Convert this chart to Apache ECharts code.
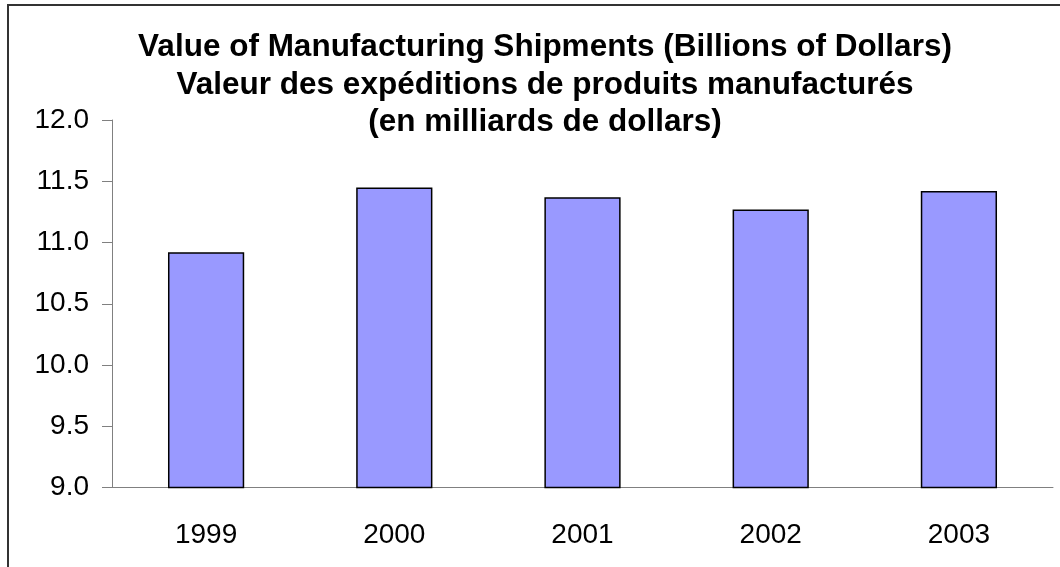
<!DOCTYPE html>
<html>
<head>
<meta charset="utf-8">
<script src="https://cdn.jsdelivr.net/npm/echarts@6/dist/echarts.min.js"></script>
<style>
html, body { margin: 0; padding: 0; background: #fff; }
#chartmain { width: 1060px; height: 567px; }
</style>
</head>
<body>
<div id="chartmain"></div>
<script>
var years = ['1999', '2000', '2001', '2002', '2003'];
var shipments = [10.92, 11.45, 11.37, 11.27, 11.42];
var titleLines = [
    'Value of Manufacturing Shipments (Billions of Dollars)',
    'Valeur des expéditions de produits manufacturés',
    '(en milliards de dollars)'
];

var myChart = echarts.init(document.getElementById('chartmain'));
var option = {
    backgroundColor: '#fff',
    animation: false,
    textStyle: { fontFamily: 'Liberation Sans, Arial, sans-serif' },
    title: {
        text: titleLines.join('\n'),
        left: 540,
        textAlign: 'center',
        top: 24,
        textStyle: {
            fontSize: 31.5,
            fontWeight: 'bold',
            color: '#000',
            lineHeight: 37.5,
            fontFamily: 'Liberation Sans, Arial, sans-serif'
        }
    },
    graphic: [{
        type: 'rect',
        silent: true,
        shape: { x: 8, y: 5, width: 1200, height: 700 },
        style: { fill: 'none', stroke: '#333', lineWidth: 2 }
    }],
    grid: { left: 112, right: 7, top: 120, bottom: 79.5 },
    xAxis: {
        type: 'category',
        data: years,
        axisLine: { lineStyle: { color: '#808080', width: 1 } },
        axisTick: { length: 10, lineStyle: { color: '#808080' } },
        axisLabel: { color: '#000', fontSize: 28, margin: 34 }
    },
    yAxis: {
        type: 'value',
        min: 9,
        max: 12,
        interval: 0.5,
        splitLine: { show: false },
        axisLine: { show: true, lineStyle: { color: '#808080', width: 1 } },
        axisTick: { show: true, length: 10, lineStyle: { color: '#808080' } },
        axisLabel: {
            color: '#000',
            fontSize: 28,
            margin: 23,
            formatter: function (v) { return v.toFixed(1); }
        }
    },
    series: [{
        type: 'bar',
        data: shipments,
        barWidth: '40.5%',
        itemStyle: { color: '#9999FF', borderColor: '#000', borderWidth: 1.5 }
    }]
};
myChart.setOption(option);
</script>
</body>
</html>
